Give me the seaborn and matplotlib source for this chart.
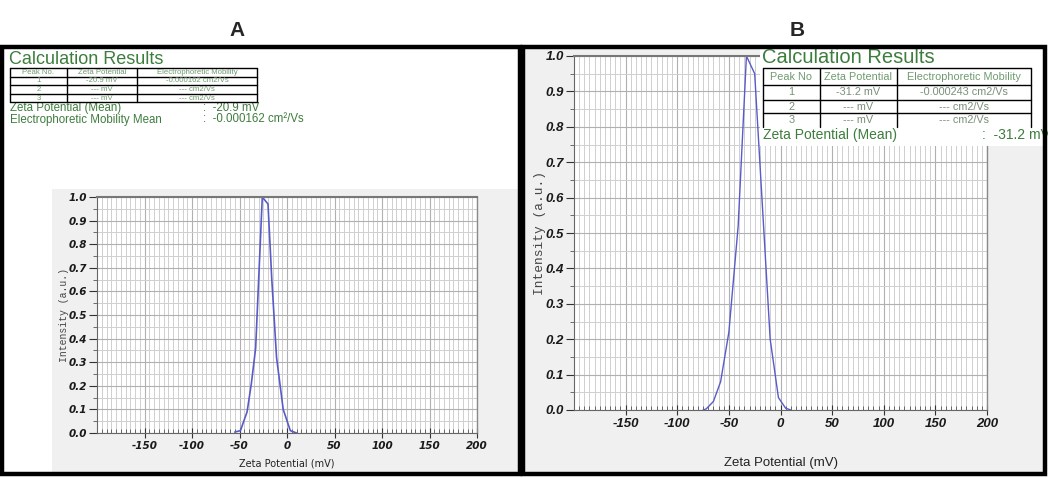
import numpy as np
import pandas as pd
import matplotlib
matplotlib.use("Agg")
import matplotlib.pyplot as plt
import seaborn as sns
from matplotlib.patches import Rectangle
from matplotlib.lines import Line2D
from matplotlib.ticker import MultipleLocator, FixedLocator

# ---------------- data ----------------
zeta_A = [-55, -49, -42, -37.5, -33, -29.5, -26, -20, -16, -11, -4, 3.5, 10]
intensity_A = [0.004, 0.01, 0.09, 0.21, 0.36, 0.68, 1.0, 0.97, 0.65, 0.32, 0.10, 0.01, 0.0]

zeta_B = [-75, -72, -65, -58, -50, -41, -33, -25, -19, -10, -2, 5, 10]
intensity_B = [0.0, 0.003, 0.024, 0.08, 0.22, 0.52, 1.0, 0.95, 0.65, 0.20, 0.035, 0.005, 0.0]

x_ticks = [-150, -100, -50, 0, 50, 100, 150, 200]
y_ticks = [0.0, 0.1, 0.2, 0.3, 0.4, 0.5, 0.6, 0.7, 0.8, 0.9, 1.0]

table_header_A = ["Peak No.", "Zeta Potential", "Electrophoretic Mobility"]
table_header_B = ["Peak No", "Zeta Potential", "Electrophoretic Mobility"]
peak_no = ["1", "2", "3"]
zeta_rows_A = ["-20.9 mV", "--- mV", "--- mV"]
mob_rows_A = ["-0.000162 cm2/Vs", "--- cm2/Vs", "--- cm2/Vs"]
zeta_rows_B = ["-31.2 mV", "--- mV", "--- mV"]
mob_rows_B = ["-0.000243 cm2/Vs", "--- cm2/Vs", "--- cm2/Vs"]
zeta_mean_A = "-20.9 mV"
mob_mean_A = "-0.000162 cm\u00b2/Vs"
zeta_mean_B = "-31.2 mV"

# ---------------- style ----------------
sns.set_style("white")
plt.rcParams['font.family'] = ['DejaVu Sans']

W, H = 1048, 478
fig = plt.figure(figsize=(W / 100, H / 100), dpi=100)
fig.patch.set_facecolor("white")

GREEN = "#3d7d3d"
TGREEN = "#6f9a6f"
LINE = "#5a5ac8"
SANS = ["Liberation Sans", "DejaVu Sans"]


def fx(px):
    return px / W


def fy(py):
    return 1 - py / H


def rect(x0, y0, x1, y1, **kw):
    fig.add_artist(Rectangle((fx(x0), fy(y1)), fx(x1) - fx(x0), fy(y0) - fy(y1),
                             transform=fig.transFigure, **kw))


def hline(x0, x1, y, **kw):
    fig.add_artist(Line2D([fx(x0), fx(x1)], [fy(y), fy(y)], transform=fig.transFigure, **kw))


def vline(x, y0, y1, **kw):
    fig.add_artist(Line2D([fx(x), fx(x)], [fy(y0), fy(y1)], transform=fig.transFigure, **kw))


def text(x, y, s, **kw):
    fig.text(fx(x), fy(y), s, **kw)


def draw_table(cols, rows_y, header, c1, c2, c3, fs, hdr_color, cell_color, family,
               close_bottom=True, zorder=4):
    lw = 1.0
    for i, y in enumerate(rows_y):
        if i == len(rows_y) - 1 and not close_bottom:
            continue
        hline(cols[0], cols[-1], y, color="black", lw=lw, zorder=zorder)
    for x in cols:
        vline(x, rows_y[0], rows_y[-1], color="black", lw=lw, zorder=zorder)
    data = [header] + [[a, b, c] for a, b, c in zip(c1, c2, c3)]
    for r in range(len(data)):
        yc = (rows_y[r] + rows_y[r + 1]) / 2
        for c in range(3):
            xc = (cols[c] + cols[c + 1]) / 2
            text(xc, yc, data[r][c], ha="center", va="center", fontsize=fs,
                 color=hdr_color if r == 0 else cell_color, family=family, zorder=zorder + 1)


def style_axes(ax, tick_fs, tick_family, xlabel_fs, ylabel_fs, xlabel_family):
    ax.set_xlim(-200, 200)
    ax.set_ylim(0, 1.0)
    ax.set_facecolor("white")
    ax.xaxis.set_major_locator(FixedLocator(x_ticks))
    ax.xaxis.set_minor_locator(MultipleLocator(5))
    ax.yaxis.set_major_locator(FixedLocator(y_ticks))
    ax.yaxis.set_minor_locator(MultipleLocator(0.05))
    ax.set_yticklabels([f"{v:.1f}" for v in y_ticks])
    ax.set_xticklabels([str(v) for v in x_ticks])
    ax.grid(which="minor", color="#cfcfcf", lw=0.7)
    ax.grid(which="major", color="#b0b0b0", lw=0.8)
    ax.set_axisbelow(True)
    for s in ["top", "right"]:
        ax.spines[s].set_color("#8a8a8a")
        ax.spines[s].set_linewidth(1.0)
    for s in ["left", "bottom"]:
        ax.spines[s].set_color("#666666")
        ax.spines[s].set_linewidth(0.8)
    ax.spines["top"].set_color("#777777")
    ax.spines["top"].set_linewidth(1.5)
    ax.tick_params(axis="y", which="major", direction="out", length=6, width=0.8, color="#333333",
                   pad=1, left=True)
    ax.tick_params(axis="y", which="minor", direction="out", length=3, width=0.6, color="#555555",
                   left=True)
    ax.tick_params(axis="x", which="major", direction="inout", length=7, width=0.8, color="#333333",
                   pad=2, bottom=True)
    ax.tick_params(axis="x", which="minor", direction="in", length=3, width=0.6, color="#555555",
                   bottom=True)
    for lab in ax.get_xticklabels() + ax.get_yticklabels():
        lab.set_fontsize(tick_fs)
        lab.set_fontweight("bold")
        lab.set_fontstyle("italic")
        lab.set_family(tick_family)
        lab.set_color("#1a1a1a")
    ax.set_xlabel("Zeta Potential (mV)", fontsize=xlabel_fs, family=xlabel_family, color="#222222")
    ax.set_ylabel("Intensity (a.u.)", fontsize=ylabel_fs, family=["Liberation Mono", "DejaVu Sans Mono"],
                  color="#444444")


# ---------------- backgrounds ----------------
rect(52, 189, 518, 472, facecolor="#f0f0f0", edgecolor="none", zorder=-2)
rect(524, 49, 1043, 472, facecolor="#f0f0f0", edgecolor="none", zorder=-2)

# ---------------- panel A ----------------
axA = fig.add_axes([fx(97), fy(433), fx(477) - fx(97), fy(197) - fy(433)])
dfA = pd.DataFrame({"zeta": zeta_A, "intensity": intensity_A})
sns.lineplot(data=dfA, x="zeta", y="intensity", ax=axA, color=LINE, lw=1.2, sort=False)
style_axes(axA, 7.5, ["DejaVu Sans"], 7, 7, ["DejaVu Sans"])
axA.xaxis.labelpad = 6
axA.yaxis.labelpad = 0

# ---------------- panel B ----------------
axB = fig.add_axes([fx(574), fy(410), fx(987) - fx(574), fy(56) - fy(410)])
dfB = pd.DataFrame({"zeta": zeta_B, "intensity": intensity_B})
sns.lineplot(data=dfB, x="zeta", y="intensity", ax=axB, color=LINE, lw=1.0, sort=False)
style_axes(axB, 9.5, SANS, 9.5, 9.3, SANS)
axB.xaxis.labelpad = 20
axB.yaxis.labelpad = 0

# white block behind table B
rect(760, 49, 1043, 146, facecolor="white", edgecolor="none", zorder=3)

# ---------------- panel A text ----------------
text(9, 59, "Calculation Results", fontsize=13, color=GREEN, va="center", family=SANS)
draw_table([10, 67, 137, 257], [67.5, 76.5, 85, 93.5, 102.5], table_header_A, peak_no, zeta_rows_A,
           mob_rows_A, 5.6, TGREEN, TGREEN, SANS)
text(10, 108, "Zeta Potential (Mean)", fontsize=8.3, color=GREEN, va="center", family=SANS)
text(203, 108, ":  " + zeta_mean_A, fontsize=8.3, color=GREEN, va="center", family=SANS)
text(10, 119.5, "Electrophoretic Mobility Mean", fontsize=8.3, color=GREEN, va="center", family=SANS)
text(203, 119.5, ":  " + mob_mean_A, fontsize=8.3, color=GREEN, va="center", family=SANS)

# ---------------- panel B text ----------------
text(762, 57, "Calculation Results", fontsize=14.5, color=GREEN, va="center", family=SANS, zorder=5)
draw_table([763, 820, 897, 1031], [68, 85, 100, 113, 127], table_header_B, peak_no, zeta_rows_B,
           mob_rows_B, 7.8, TGREEN, "#7a8f7a", SANS, close_bottom=False)
text(763, 135, "Zeta Potential (Mean)", fontsize=10, color=GREEN, va="center", family=SANS, zorder=5)
text(982, 135, ":  " + zeta_mean_B, fontsize=10, color=GREEN, va="center", family=SANS, zorder=5)

# ---------------- panel borders & labels ----------------
rect(2, 47, 520, 474, facecolor="none", edgecolor="black", lw=3.2, zorder=6)
rect(523, 47, 1045, 474, facecolor="none", edgecolor="black", lw=3.2, zorder=6)
text(237, 31, "A", fontsize=15, fontweight="bold", ha="center", va="center", family=SANS)
text(797, 31, "B", fontsize=15, fontweight="bold", ha="center", va="center", family=SANS)

fig.savefig("out.png", dpi=100)
